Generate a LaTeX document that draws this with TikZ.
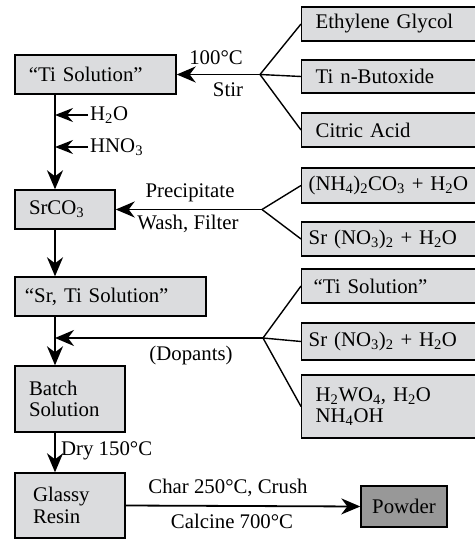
\documentclass[tikz,border=0pt]{standalone}
\usepackage{fontspec}
\setmainfont{Liberation Serif}
\usetikzlibrary{arrows.meta}
\definecolor{boxgray}{RGB}{219,220,222}
\definecolor{powdergray}{RGB}{152,152,152}
\newcommand{\figfont}{\fontsize{20.8bp}{21.5bp}\selectfont}
\newcommand{\sub}[1]{\textsubscript{#1}}

\begin{document}
\begin{tikzpicture}[x=1bp, y=-1bp, >={Stealth[length=19bp,width=16bp,inset=6bp]},
    every node/.style={font=\figfont},
    line/.style={line width=1.8bp},
    fork/.style={line width=1.4bp},
    small/.style={-{Stealth[length=18bp,width=14bp,inset=6bp]}},
    lbox/.style={draw, line width=1.4bp, fill=boxgray, inner xsep=14bp, inner ysep=0pt, align=left},
    rbox/.style={draw, line width=1.4bp, fill=boxgray, anchor=west, inner xsep=14bp, inner ysep=0pt, text width=180bp, align=left}]
    \useasboundingbox (0,0) rectangle (475,539);

    \node[lbox, text width=133bp, minimum height=39bp] (tisol) at (95.5,74.5) {``Ti Solution''};
    \node[lbox, text width=72bp, minimum height=39bp] (srco) at (65,209.5) {SrCO\sub{3}};
    \node[lbox, minimum height=39bp, inner xsep=10bp, text width=171bp] (srti) at (110.5,296.5) {``Sr, Ti Solution''};
    \node[lbox, text width=82bp, minimum height=66bp] (batch) at (70,399) {Batch\\Solution};
    \node[lbox, inner xsep=18bp, text width=74bp, minimum height=65bp] (glassy) at (70,505.5) {Glassy\\Resin};
    \node[draw, line width=1.4bp, fill=powdergray, minimum width=86bp, minimum height=41bp, inner sep=0pt] (powder) at (404,506.5) {Powder};

    \node[rbox, minimum height=34bp] (glycol) at (301,24) {Ethylene Glycol};
    \node[rbox, minimum height=33bp] (butox) at (301,76.5) {Ti n-Butoxide};
    \node[rbox, minimum height=34bp] (citric) at (301,130) {Citric Acid};
    \node[rbox, inner xsep=7bp, minimum height=35bp] (ammon) at (301,185.5) {(NH\sub{4})\sub{2}CO\sub{3} + H\sub{2}O};
    \node[rbox, inner xsep=7bp, minimum height=34bp] (srnit) at (301,239) {Sr (NO\sub{3})\sub{2} + H\sub{2}O};
    \node[rbox, inner xsep=12bp, minimum height=34bp] (tisoltwo) at (301,286) {``Ti Solution''};
    \node[rbox, inner xsep=7bp, minimum height=37bp] (srnittwo) at (301,341.5) {Sr (NO\sub{3})\sub{2} + H\sub{2}O};
    \node[rbox, minimum height=63bp] (tung) at (301,406.5) {H\sub{2}WO\sub{4}, H\sub{2}O\\NH\sub{4}OH};

    \coordinate (spine) at (55,0);
    \coordinate (jtop) at (260,74.5);
    \coordinate (jmid) at (262,209.5);
    \coordinate (jlow) at (263,338);

    \draw[line,->] (tisol.south -| spine) -- (srco.north -| spine);
    \draw[line,->] (srco.south -| spine) -- (srti.north -| spine);
    \draw[line,->] (srti.south -| spine) -- (batch.north -| spine);
    \draw[line,->] (batch.south -| spine) -- (glassy.north -| spine);

    \node[anchor=west, inner sep=2bp] (water) at (88,115) {H\sub{2}O};
    \node[anchor=west, inner sep=2bp] (nitric) at (88,147) {HNO\sub{3}};
    \draw[line,small] (water.west) -- (water.west -| spine);
    \draw[line,small] (nitric.west) -- (nitric.west -| spine);

    \draw[line,->] (jtop) -- (tisol.east);
    \draw[fork] (jtop) -- (glycol.west);
    \draw[fork] (jtop) -- (butox.west);
    \draw[fork] (jtop) -- (citric.west);
    \node (heat) at (216,58) {100°C};
    \node (stir) at (228,90) {Stir};

    \draw[line,->] (jmid) -- (srco.east);
    \draw[fork] (jmid) -- (ammon.west);
    \draw[fork] (jmid) -- (srnit.west);
    \node (precip) at (190,193) {Precipitate};
    \node (wash) at (188,224) {Wash, Filter};

    \draw[line,->] (jlow) -- (jlow -| spine);
    \draw[fork] (jlow) -- (tisoltwo.west);
    \draw[fork] (jlow) -- (srnittwo.west);
    \draw[fork] (jlow) -- (tung.west);
    \node (dopants) at (191,355) {(Dopants)};

    \node[anchor=west, inner sep=2bp] (dry) at (59,451) {Dry 150°C};

    \draw[line,->] (glassy.east) -- (powder.west);
    \node (char) at (228,488) {Char 250°C, Crush};
    \node (calcine) at (232,521) {Calcine 700°C};
\end{tikzpicture}
\end{document}
